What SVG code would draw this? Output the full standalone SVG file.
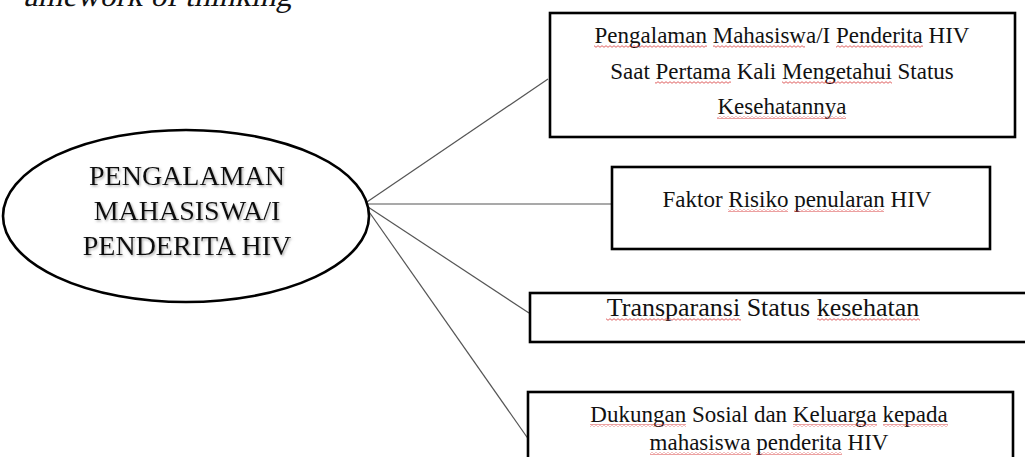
<svg xmlns="http://www.w3.org/2000/svg" width="1025" height="457" viewBox="0 0 1025 457">
<style>
.box{fill:#fff;stroke:#000;stroke-width:2.6}
.t{font-family:"Liberation Serif","Times New Roman",serif;font-size:23px;fill:#111;text-anchor:middle}
.big{font-family:"Liberation Serif","Times New Roman",serif;font-size:28px;fill:#111;text-anchor:middle;filter:url(#sh)}
.hd{font-family:"Liberation Serif","Times New Roman",serif;font-size:32px;fill:#111;text-anchor:end}
.conn{stroke:#555;stroke-width:1.2;fill:none}
.sq{fill:url(#wave)}
</style>
<defs>
<pattern id="wave" patternUnits="userSpaceOnUse" width="4" height="3">
<path d="M0,2.3 L2,0.7 L4,2.3" fill="none" stroke="#d83a3a" stroke-width="0.8"/>
</pattern>
<filter id="sh" x="-10%" y="-20%" width="120%" height="150%">
<feDropShadow dx="1.2" dy="1.5" stdDeviation="1" flood-color="#777" flood-opacity="0.6"/>
</filter>
</defs>
<rect width="1025" height="457" fill="#fff"/>
<text class="hd" x="293" y="6" transform="skewX(-12)">amework of thinking</text>
<g id="connectors">
<line class="conn" x1="364" y1="204" x2="548" y2="79"/>
<line class="conn" x1="364" y1="204" x2="612" y2="204"/>
<line class="conn" x1="365" y1="205" x2="529" y2="313"/>
<line class="conn" x1="365" y1="206" x2="529" y2="440"/>
</g>
<g id="center">
<ellipse cx="186" cy="216" rx="183" ry="86" fill="#fff" stroke="#000" stroke-width="2.6"/>
<text class="big" x="187" y="185">PENGALAMAN</text>
<text class="big" x="187" y="220">MAHASISWA/I</text>
<text class="big" x="187" y="255">PENDERITA HIV</text>
</g>
<g id="box1">
<rect class="box" x="550" y="13" width="465" height="124"/>
<text class="t" x="782" y="43">Pengalaman Mahasiswa/I Penderita HIV</text>
<text class="t" x="782" y="79">Saat Pertama Kali Mengetahui Status</text>
<text class="t" x="782" y="114">Kesehatannya</text>
<rect class="sq" x="594" y="45" width="113" height="3"/>
<rect class="sq" x="713" y="45" width="92" height="3"/>
<rect class="sq" x="836" y="45" width="87" height="3"/>
<rect class="sq" x="655" y="81" width="76" height="3"/>
<rect class="sq" x="782" y="81" width="110" height="3"/>
<rect class="sq" x="717" y="116" width="129" height="3"/>
</g>
<g id="box2">
<rect class="box" x="612" y="167" width="378" height="82"/>
<text class="t" x="797" y="207">Faktor Risiko penularan HIV</text>
<rect class="sq" x="728" y="209" width="60" height="3"/>
<rect class="sq" x="794" y="209" width="90" height="3"/>
</g>
<g id="box3">
<rect class="box" x="530" y="293" width="510" height="49"/>
<text class="t" x="763" y="316" style="font-size:26px">Transparansi Status kesehatan</text>
<rect class="sq" x="606" y="318" width="135" height="3"/>
<rect class="sq" x="817" y="318" width="103" height="3"/>
</g>
<g id="box4">
<rect class="box" x="528" y="392" width="485" height="80"/>
<text class="t" x="769" y="422">Dukungan Sosial dan Keluarga kepada</text>
<text class="t" x="769" y="450">mahasiswa penderita HIV</text>
<rect class="sq" x="590" y="424" width="96" height="3"/>
<rect class="sq" x="793" y="424" width="84" height="3"/>
<rect class="sq" x="883" y="424" width="65" height="3"/>
<rect class="sq" x="650" y="452" width="101" height="3"/>
<rect class="sq" x="756" y="452" width="86" height="3"/>
</g>
</svg>
